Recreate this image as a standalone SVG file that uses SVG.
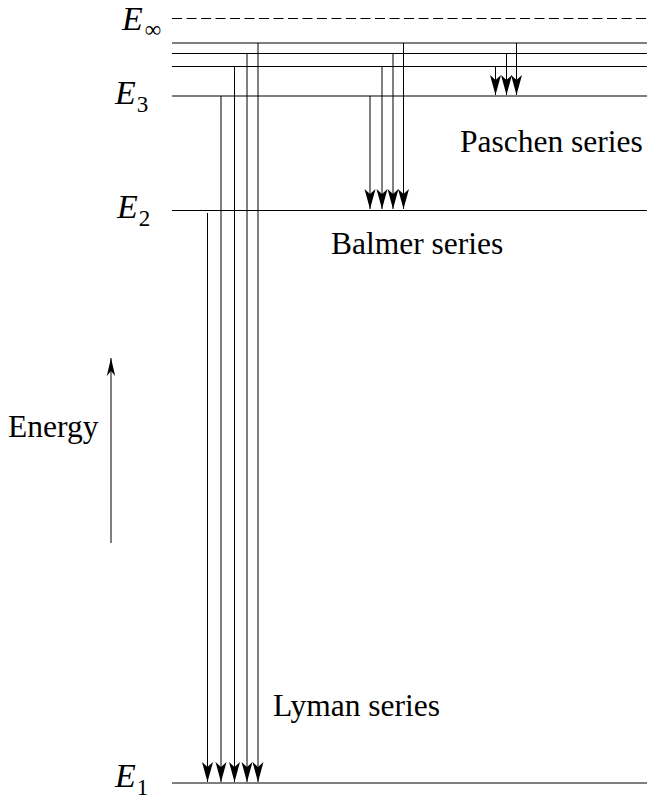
<svg xmlns="http://www.w3.org/2000/svg" width="647" height="800" viewBox="0 0 647 800">
<style>
.lvl{stroke:#000;stroke-width:1;fill:none}
.tr{stroke:#000;stroke-width:1;fill:none;marker-end:url(#ah)}
.lbl{font-family:"Liberation Serif","Times New Roman",serif;font-size:31.5px;fill:#000}
.e{font-family:"Liberation Serif","Times New Roman",serif;font-style:italic;font-size:34px;fill:#000}
.sub{font-family:"Liberation Serif","Times New Roman",serif;font-style:normal;font-size:23px}
</style>
<defs>
<marker id="ah" markerUnits="userSpaceOnUse" viewBox="-21 -6 22 12" refX="0" refY="0" markerWidth="22" markerHeight="12" orient="auto">
<path d="M0,0 L-20,-5.5 L-15,0 L-20,5.5 Z" fill="#000"/>
</marker>
<marker id="ah2" markerUnits="userSpaceOnUse" viewBox="-19 -5 20 10" refX="0" refY="0" markerWidth="20" markerHeight="10" orient="auto">
<path d="M0,0 L-18,-4.2 L-13,0 L-18,4.2 Z" fill="#000"/>
</marker>
</defs>
<g id="levels">
<line class="lvl" x1="172" y1="18.5" x2="647" y2="18.5" stroke-dasharray="10,4.5"/>
<line class="lvl" x1="172" y1="43" x2="647" y2="43"/>
<line class="lvl" x1="172" y1="53.5" x2="647" y2="53.5"/>
<line class="lvl" x1="172" y1="66.5" x2="647" y2="66.5"/>
<line class="lvl" x1="172" y1="96" x2="647" y2="96"/>
<line class="lvl" x1="172" y1="210.5" x2="647" y2="210.5"/>
<line class="lvl" x1="172" y1="783" x2="647" y2="783"/>
</g>
<g id="labels">
<text class="e" x="122" y="30">E<tspan class="sub" dx="2" dy="7">∞</tspan></text>
<text class="e" x="115" y="104">E<tspan class="sub" dx="1" dy="8">3</tspan></text>
<text class="e" x="117" y="218">E<tspan class="sub" dx="1" dy="8">2</tspan></text>
<text class="e" x="115" y="787">E<tspan class="sub" dx="1" dy="8">1</tspan></text>
</g>
<g id="connectors">
<line class="tr" x1="207.5" y1="213" x2="207.5" y2="782"/>
<line class="tr" x1="221" y1="96" x2="221" y2="782"/>
<line class="tr" x1="234.5" y1="66.5" x2="234.5" y2="782"/>
<line class="tr" x1="247" y1="53.5" x2="247" y2="782"/>
<line class="tr" x1="258" y1="43" x2="258" y2="782"/>
<line class="tr" x1="370" y1="96" x2="370" y2="209"/>
<line class="tr" x1="382" y1="66.5" x2="382" y2="209"/>
<line class="tr" x1="393" y1="53.5" x2="393" y2="209"/>
<line class="tr" x1="403.5" y1="43" x2="403.5" y2="209"/>
<line class="tr" x1="495.5" y1="66.5" x2="495.5" y2="95"/>
<line class="tr" x1="506.5" y1="53.5" x2="506.5" y2="95"/>
<line class="tr" x1="516.5" y1="43" x2="516.5" y2="95"/>
<line class="lvl" x1="111" y1="543" x2="111" y2="358" style="marker-end:url(#ah2)"/>
</g>
<g id="series">
<text class="lbl" x="460" y="152">Paschen series</text>
<text class="lbl" x="331" y="254">Balmer series</text>
<text class="lbl" x="273" y="716">Lyman series</text>
<text class="lbl" x="8" y="437">Energy</text>
</g>
</svg>
